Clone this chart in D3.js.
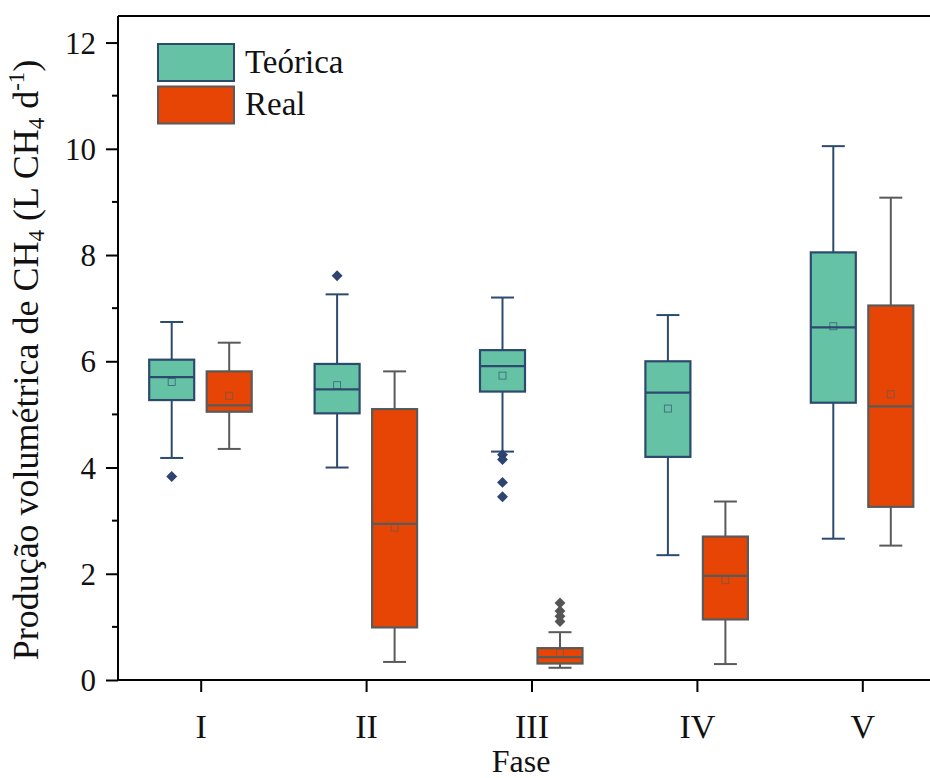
<!DOCTYPE html>
<html>
<head>
<meta charset="utf-8">
<script src="https://cdn.jsdelivr.net/npm/d3@7"></script>
<style>
  html, body { margin: 0; padding: 0; background: #fff; }
  svg { display: block; }
</style>
</head>
<body>
<svg id="chart" width="930" height="778"></svg>
<script>
// Phases of operation
const phases = ["I", "II", "III", "IV", "V"];

// Theoretical production (L CH4 d-1): whiskers, quartiles, median, mean, outliers
const teoricaLow    = [4.18, 4.00, 4.30, 2.35, 2.66];
const teoricaQ1     = [5.27, 5.02, 5.43, 4.20, 5.22];
const teoricaMedian = [5.70, 5.47, 5.91, 5.41, 6.64];
const teoricaQ3     = [6.03, 5.95, 6.21, 6.00, 8.05];
const teoricaHigh   = [6.74, 7.26, 7.20, 6.87, 10.05];
const teoricaMean   = [5.61, 5.55, 5.73, 5.11, 6.66];
const teoricaOutliers = [[3.83], [7.61], [4.24, 4.15, 3.72, 3.45], [], []];

// Measured production (L CH4 d-1)
const realLow    = [4.35, 0.34, 0.23, 0.30, 2.53];
const realQ1     = [5.05, 0.99, 0.31, 1.14, 3.26];
const realMedian = [5.17, 2.94, 0.43, 1.96, 5.15];
const realQ3     = [5.81, 5.10, 0.60, 2.70, 7.05];
const realHigh   = [6.35, 5.81, 0.90, 3.36, 9.08];
const realMean   = [5.35, 2.87, 0.51, 1.88, 5.38];
const realOutliers = [[], [], [1.45, 1.30, 1.20, 1.10], [], []];

const yMajorTicks = [0, 2, 4, 6, 8, 10, 12];
const yMinorTicks = [1, 3, 5, 7, 9, 11];

const SERIF = "'Liberation Serif', 'Times New Roman', Times, 'DejaVu Serif', serif";

const svg = d3.select("#chart");
const plotLeft = 118, plotRight = 945, plotTop = 16, plotBottom = 680;

const x = d3.scaleLinear().domain([0.5, 5.5]).range([plotLeft, plotRight]);
const y = d3.scaleLinear().domain([0, 12.5]).range([plotBottom, plotTop]);

const series = [
  { name: "Teórica", fill: "#66C2A5", stroke: "#2C4A6E", outlier: "#2D4470", offset: -29,
    low: teoricaLow, q1: teoricaQ1, med: teoricaMedian, q3: teoricaQ3, high: teoricaHigh,
    mean: teoricaMean, out: teoricaOutliers },
  { name: "Real", fill: "#E64506", stroke: "#5A5A5A", outlier: "#555555", offset: 28.5,
    low: realLow, q1: realQ1, med: realMedian, q3: realQ3, high: realHigh,
    mean: realMean, out: realOutliers }
];

const boxW = 45, capW = 23;

series.forEach(s => {
  const g = svg.append("g").attr("class", "series");
  phases.forEach((p, i) => {
    const cx = x(i + 1) + s.offset;
    const bg = g.append("g");
    // whiskers
    bg.append("line").attr("x1", cx).attr("x2", cx)
      .attr("y1", y(s.high[i])).attr("y2", y(s.q3[i]))
      .attr("stroke", s.stroke).attr("stroke-width", 2);
    bg.append("line").attr("x1", cx).attr("x2", cx)
      .attr("y1", y(s.q1[i])).attr("y2", y(s.low[i]))
      .attr("stroke", s.stroke).attr("stroke-width", 2);
    // caps
    [s.high[i], s.low[i]].forEach(v => {
      bg.append("line").attr("x1", cx - capW / 2).attr("x2", cx + capW / 2)
        .attr("y1", y(v)).attr("y2", y(v))
        .attr("stroke", s.stroke).attr("stroke-width", 2);
    });
    // box
    bg.append("rect")
      .attr("x", cx - boxW / 2).attr("width", boxW)
      .attr("y", y(s.q3[i])).attr("height", y(s.q1[i]) - y(s.q3[i]))
      .attr("fill", s.fill).attr("stroke", s.stroke).attr("stroke-width", 2.2);
    // median
    bg.append("line").attr("x1", cx - boxW / 2).attr("x2", cx + boxW / 2)
      .attr("y1", y(s.med[i])).attr("y2", y(s.med[i]))
      .attr("stroke", s.stroke).attr("stroke-width", 2.2);
    // mean marker
    bg.append("rect")
      .attr("x", cx - 3.5).attr("y", y(s.mean[i]) - 3.5)
      .attr("width", 7).attr("height", 7)
      .attr("fill", "none").attr("stroke", s.stroke)
      .attr("stroke-opacity", 0.7).attr("stroke-width", 0.9);
    // outliers
    bg.selectAll("path.out").data(s.out[i]).join("path")
      .attr("class", "out")
      .attr("d", d3.symbol(d3.symbolDiamond2, 76))
      .attr("transform", d => `translate(${cx},${y(d)})`)
      .attr("fill", s.outlier);
  });
});

// Frame top line
svg.append("line").attr("x1", plotLeft).attr("x2", 930).attr("y1", plotTop).attr("y2", plotTop)
  .attr("stroke", "#000").attr("stroke-width", 2);

// Y axis
const yAxis = svg.append("g").attr("transform", `translate(${plotLeft},0)`)
  .call(d3.axisLeft(y).tickValues(yMajorTicks).tickSize(12).tickPadding(10).tickSizeOuter(0));
yAxis.attr("font-family", null).attr("font-size", null);
yAxis.select(".domain").attr("stroke", "#000").attr("stroke-width", 2)
  .attr("d", `M0,${plotTop}V${plotBottom}`);
yAxis.selectAll(".tick line").attr("stroke", "#000").attr("stroke-width", 2);
yAxis.selectAll(".tick text")
  .style("font-family", SERIF).style("font-size", "31px")
  .attr("fill", "#111").attr("dy", "0.34em");

svg.append("g").selectAll("line").data(yMinorTicks).join("line")
  .attr("x1", plotLeft - 6).attr("x2", plotLeft)
  .attr("y1", d => y(d)).attr("y2", d => y(d))
  .attr("stroke", "#000").attr("stroke-width", 2);

// X axis
const xAxis = svg.append("g").attr("transform", `translate(0,${plotBottom})`)
  .call(d3.axisBottom(x).tickValues([1, 2, 3, 4, 5])
    .tickFormat((d, i) => phases[i]).tickSize(12).tickSizeOuter(0));
xAxis.attr("font-family", null).attr("font-size", null);
xAxis.select(".domain").attr("stroke", "#000").attr("stroke-width", 2.2)
  .attr("d", `M${plotLeft - 1},0H930`);
xAxis.selectAll(".tick line").attr("stroke", "#000").attr("stroke-width", 2);
xAxis.selectAll(".tick text")
  .style("font-family", SERIF).style("font-size", "34px")
  .attr("fill", "#111").attr("dy", null).attr("y", 58);

// Axis titles
svg.append("text").attr("x", 521).attr("y", 772).attr("text-anchor", "middle")
  .style("font-family", SERIF).style("font-size", "32px").attr("fill", "#111")
  .text("Fase");

const yTitle = svg.append("text")
  .attr("transform", `translate(38,360) rotate(-90)`)
  .attr("text-anchor", "middle")
  .style("font-family", SERIF).style("font-size", "36px").attr("fill", "#111");
yTitle.append("tspan").text("Produção volumétrica de CH");
yTitle.append("tspan").style("font-size", "23px").attr("dy", 6).text("4");
yTitle.append("tspan").attr("dy", -6).text(" (L CH");
yTitle.append("tspan").style("font-size", "23px").attr("dy", 6).text("4");
yTitle.append("tspan").attr("dy", -6).text(" d");
yTitle.append("tspan").style("font-size", "23px").attr("dy", -14).text("-1");
yTitle.append("tspan").attr("dy", 14).text(")");

// Legend
const legend = svg.append("g");
series.forEach((s, i) => {
  legend.append("rect").attr("x", 158).attr("y", 44 + i * 42.5)
    .attr("width", 76).attr("height", 37)
    .attr("fill", s.fill).attr("stroke", s.stroke).attr("stroke-width", 2);
  legend.append("text").attr("x", 245).attr("y", 73 + i * 42)
    .style("font-family", SERIF).style("font-size", "33px").attr("fill", "#111")
    .text(s.name);
});
</script>
</body>
</html>
